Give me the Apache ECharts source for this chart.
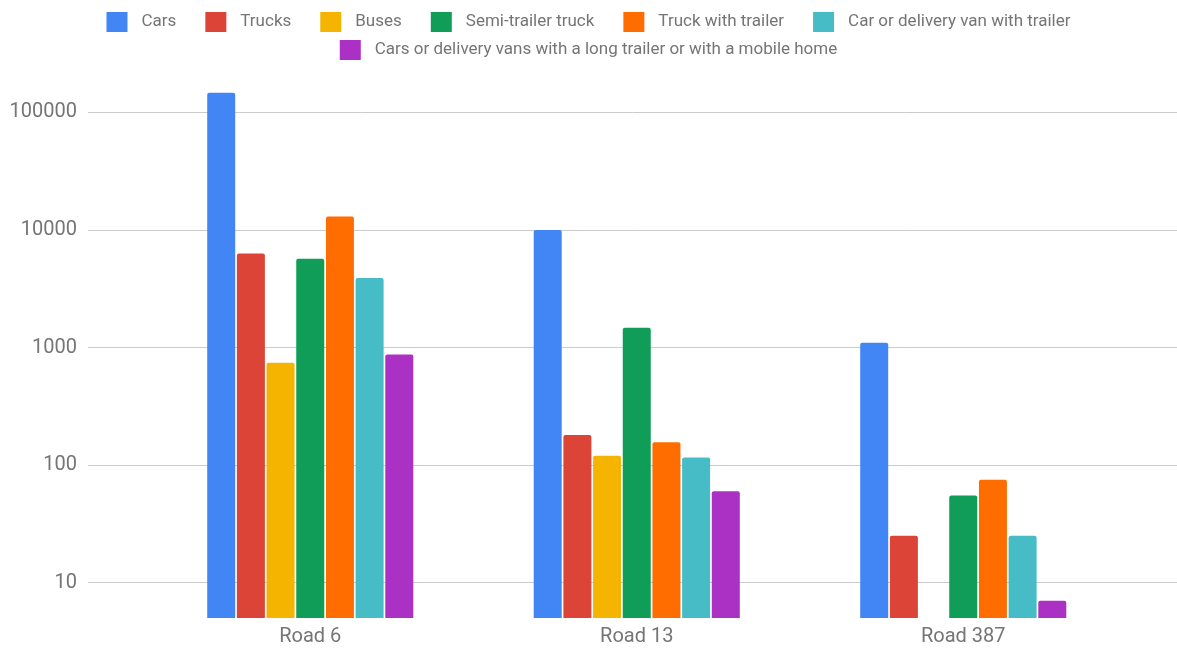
<!DOCTYPE html>
<html>
<head>
<meta charset="utf-8">
<title>Vehicles per road</title>
<script src="https://cdn.jsdelivr.net/npm/echarts@6/dist/echarts.min.js"></script>
<style>
  html, body { margin: 0; padding: 0; background: #fff; }
  #chart { width: 1177px; height: 650px; }
</style>
</head>
<body>
<div id="chart"></div>
<script>
// categories and series
var roads = ['Road 6', 'Road 13', 'Road 387'];
var seriesNames = [
    'Cars',
    'Trucks',
    'Buses',
    'Semi-trailer truck',
    'Truck with trailer',
    'Car or delivery van with trailer',
    'Cars or delivery vans with a long trailer or with a mobile home'
];
var cars = [147000, 10000, 1100];
var trucks = [6300, 180, 25];
var buses = [740, 120, null];
var semiTrailer = [5700, 1470, 55];
var truckTrailer = [13000, 156, 75];
var vanTrailer = [3900, 116, 25];
var longTrailer = [870, 60, 7];
var colors = ['#4285F4', '#DB4437', '#F4B400', '#0F9D58', '#FF6D00', '#46BDC6', '#AB30C4'];

var values = [cars, trucks, buses, semiTrailer, truckTrailer, vanTrailer, longTrailer];

var chart = echarts.init(document.getElementById('chart'));

var font = 'Roboto, "Noto Sans", sans-serif';
var textGray = '#757575';

// legend split in two centered rows
var legendBase = {
    left: 'center',
    orient: 'horizontal',
    icon: 'rect',
    itemWidth: 21,
    itemHeight: 20,
    itemGap: 29,
    selectedMode: false,
    textStyle: { fontFamily: font, fontSize: 17, color: textGray, padding: [0, 0, 0, 9] }
};

var series = [];
for (var i = 0; i < seriesNames.length; i++) {
    series.push({
        name: seriesNames[i],
        type: 'bar',
        xAxisIndex: 1,
        yAxisIndex: 1,
        barWidth: 28,
        barGap: '6%',
        data: values[i],
        itemStyle: { color: colors[i], borderRadius: [2, 2, 0, 0] }
    });
}

var option = {
    animation: false,
    backgroundColor: '#fff',
    legend: [
        Object.assign({}, legendBase, { top: 7, data: seriesNames.slice(0, 6) }),
        Object.assign({}, legendBase, { top: 35, data: seriesNames.slice(6) })
    ],
    grid: [
        // wide grid: gridlines + y labels
        { left: 88, right: 0, top: 77, bottom: 32 },
        // narrower grid: bars + road labels
        { left: 147, width: 979.5, top: 77, bottom: 32 }
    ],
    xAxis: [
        { type: 'value', gridIndex: 0, show: false, min: 0, max: 1 },
        {
            type: 'category',
            gridIndex: 1,
            data: roads,
            axisLine: { show: false },
            axisTick: { show: false },
            axisLabel: { fontFamily: font, fontSize: 20, color: textGray, margin: 9 }
        }
    ],
    yAxis: [
        {
            type: 'log',
            gridIndex: 0,
            logBase: 10,
            min: 5,
            max: 200000,
            axisLine: { show: false },
            axisTick: { show: false },
            axisLabel: {
                fontFamily: font,
                fontSize: 20,
                color: textGray,
                margin: 11,
                showMinLabel: false,
                showMaxLabel: false,
                formatter: function (v) { return String(Math.round(v)); }
            },
            splitLine: {
                show: true,
                showMinLine: false,
                showMaxLine: false,
                lineStyle: { color: '#cccccc', width: 1 }
            }
        },
        {
            type: 'log',
            gridIndex: 1,
            logBase: 10,
            min: 5,
            max: 200000,
            show: false,
            splitLine: { show: false }
        }
    ],
    series: series
};

chart.setOption(option);
</script>
</body>
</html>
